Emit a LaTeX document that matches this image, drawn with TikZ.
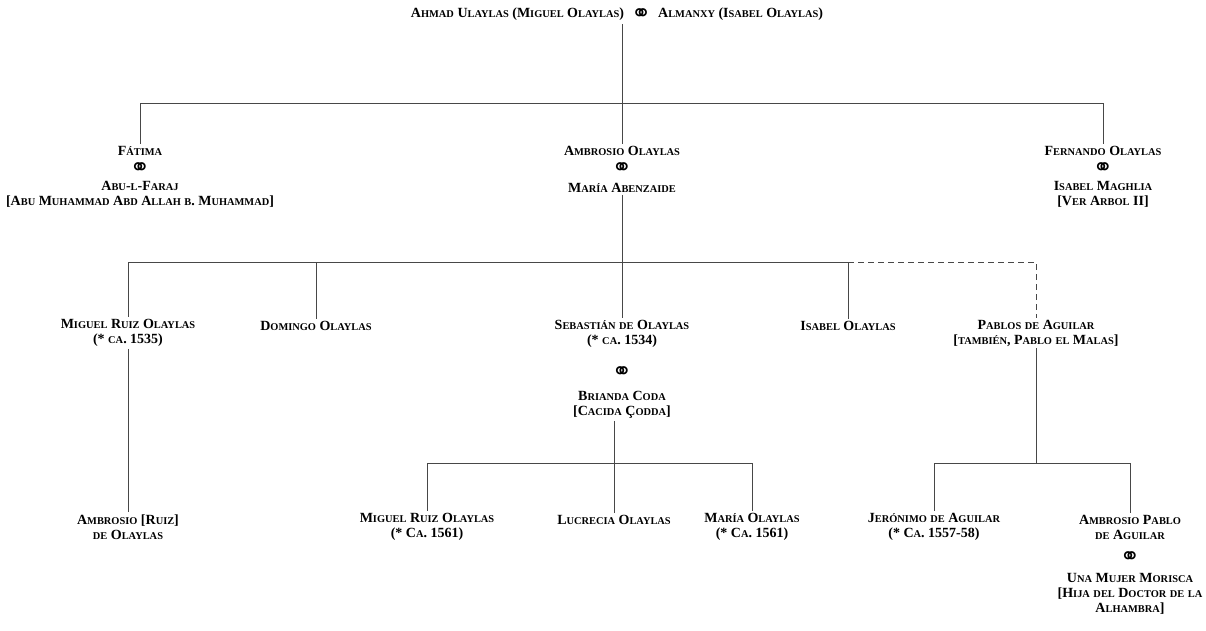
\documentclass[tikz,border=0pt]{standalone}
\usepackage{fontspec}
\setmainfont{Liberation Serif}[BoldFont={Liberation Serif Bold}]
\newfontfamily\symfont{DejaVu Sans}
\ExplSyntaxOn
\cs_new_protected:Npn \fsc_char:n #1
 {
  \int_set:Nn \l_tmpa_int { \char_value_uccode:n { `#1 } }
  \bool_lazy_or:nnTF
   { \int_compare_p:nNn { \l_tmpa_int } = { 0 } }
   { \int_compare_p:nNn { \l_tmpa_int } = { `#1 } }
   { #1 }
   { { \fontsize{10.4}{15}\selectfont \text_uppercase:n {#1} } }
 }
\NewDocumentCommand \SC { m }
 {
  \seq_set_split:Nnn \l_tmpa_seq { ~ } { #1 }
  \bool_set_true:N \l_tmpa_bool
  \seq_map_inline:Nn \l_tmpa_seq
   {
    \bool_if:NF \l_tmpa_bool { \c_space_tl }
    \bool_set_false:N \l_tmpa_bool
    \tl_map_inline:nn { ##1 } { \fsc_char:n { ####1 } }
   }
 }
\ExplSyntaxOff
\newcommand\marsym{\raisebox{-4pt}{\symfont\fontsize{24}{24}\selectfont ⚭}}
\begin{document}
\begin{tikzpicture}[x=1pt,y=-1pt,
  every node/.style={font=\bfseries\fontsize{14}{15}\selectfont, align=center, inner sep=2pt},
  pname/.style={inner sep=0.5pt},
  marr/.style={font=\symfont\fontsize{24}{24}\selectfont, inner sep=0pt,
    text height=8pt, text depth=0pt, anchor=base, yshift=-7pt},
  link/.style={line width=0.9pt, draw=black!72},
  dlink/.style={link, dash pattern=on 6pt off 4pt}]
\useasboundingbox (0,0) rectangle (1206,630);

% generation 0
\node (top) at (617,15) {\SC{Ahmad Ulaylas (Miguel Olaylas)}\enspace\marsym\enspace\SC{Almanxy (Isabel Olaylas)}};

% generation 1
\node[pname] (fatima) at (140,151) {\SC{Fátima}};
\node[marr] (m1) at (140,168) {⚭};
\node[pname] (abu) at (140,194) {\SC{Abu-l-Faraj}\\\SC{[Abu Muhammad Abd Allah b. Muhammad]}};
\node[pname] (ambrosio) at (622,151) {\SC{Ambrosio Olaylas}};
\node[marr] (m2) at (622,168) {⚭};
\node[pname] (maria) at (622,188) {\SC{María Abenzaide}};
\node[pname] (fernando) at (1103,151) {\SC{Fernando Olaylas}};
\node[marr] (m3) at (1103,168) {⚭};
\node[pname] (isabelM) at (1103,194) {\SC{Isabel Maghlia}\\\SC{[Ver Arbol II]}};

% generation 2
\node (miguelR) at (128,333) {\SC{Miguel Ruiz Olaylas}\\\SC{(* ca. 1535)}};
\node (domingo) at (316,326) {\SC{Domingo Olaylas}};
\node (sebastian) at (622,334) {\SC{Sebastián de Olaylas}\\\SC{(* ca. 1534)}};
\node[marr] (m4) at (622,372) {⚭};
\node (brianda) at (622,405) {\SC{Brianda Coda}\\\SC{[Cacida Çodda]}};
\node (isabelO) at (848,326) {\SC{Isabel Olaylas}};
\node (pablos) at (1036,333) {\SC{Pablos de Aguilar}\\\SC{[también, Pablo el Malas]}};

% generation 3
\node (ambR) at (128,527) {\SC{Ambrosio [Ruiz]}\\\SC{de Olaylas}};
\node (miguel2) at (427,527) {\SC{Miguel Ruiz Olaylas}\\\SC{(* Ca. 1561)}};
\node (lucrecia) at (614,520) {\SC{Lucrecia Olaylas}};
\node (maria2) at (752,527) {\SC{María Olaylas}\\\SC{(* Ca. 1561)}};
\node (jeronimo) at (934,527) {\SC{Jerónimo de Aguilar}\\\SC{(* Ca. 1557-58)}};
\node[pname] (ambP) at (1130,527) {\SC{Ambrosio Pablo}\\\SC{de Aguilar}};
\node[marr] (m5) at (1130,557) {⚭};
\node[pname] (una) at (1130,594) {\SC{Una Mujer Morisca}\\\SC{[Hija del Doctor de la}\\\SC{Alhambra]}};

% junctions
\coordinate (j1) at (622,103);
\coordinate (j2) at (622,262);
\coordinate (j3) at (614,463);
\coordinate (j4) at (1036,463);

% connectors
\draw[link] (j1 |- top.south) -- (j1);
\draw[link] (fatima.north |- j1) -- (fernando.north |- j1);
\draw[link] (fatima.north |- j1) -- ([yshift=1.5pt]fatima.north);
\draw[link] (j1) -- ([yshift=1.5pt]ambrosio.north);
\draw[link] (fernando.north |- j1) -- ([yshift=1.5pt]fernando.north);

\draw[link] ([yshift=-1.5pt]maria.south) -- (j2);
\draw[link] (miguelR.north |- j2) -- (isabelO.north |- j2);
\draw[dlink] (isabelO.north |- j2) -- (pablos.north |- j2) -- (pablos.north);
\draw[link] (miguelR.north |- j2) -- (miguelR.north);
\draw[link] (domingo.north |- j2) -- (domingo.north);
\draw[link] (j2) -- (sebastian.north);
\draw[link] (isabelO.north |- j2) -- (isabelO.north);

\draw[link] (miguelR.south) -- (ambR.north);

\draw[link] (j3 |- brianda.south) -- (j3);
\draw[link] (miguel2.north |- j3) -- (maria2.north |- j3);
\draw[link] (miguel2.north |- j3) -- (miguel2.north);
\draw[link] (j3) -- (lucrecia.north);
\draw[link] (maria2.north |- j3) -- (maria2.north);

\draw[link] (pablos.south) -- (j4);
\draw[link] (jeronimo.north |- j4) -- (ambP.north |- j4);
\draw[link] (jeronimo.north |- j4) -- (jeronimo.north);
\draw[link] (ambP.north |- j4) -- ([yshift=1.5pt]ambP.north);
\end{tikzpicture}
\end{document}
